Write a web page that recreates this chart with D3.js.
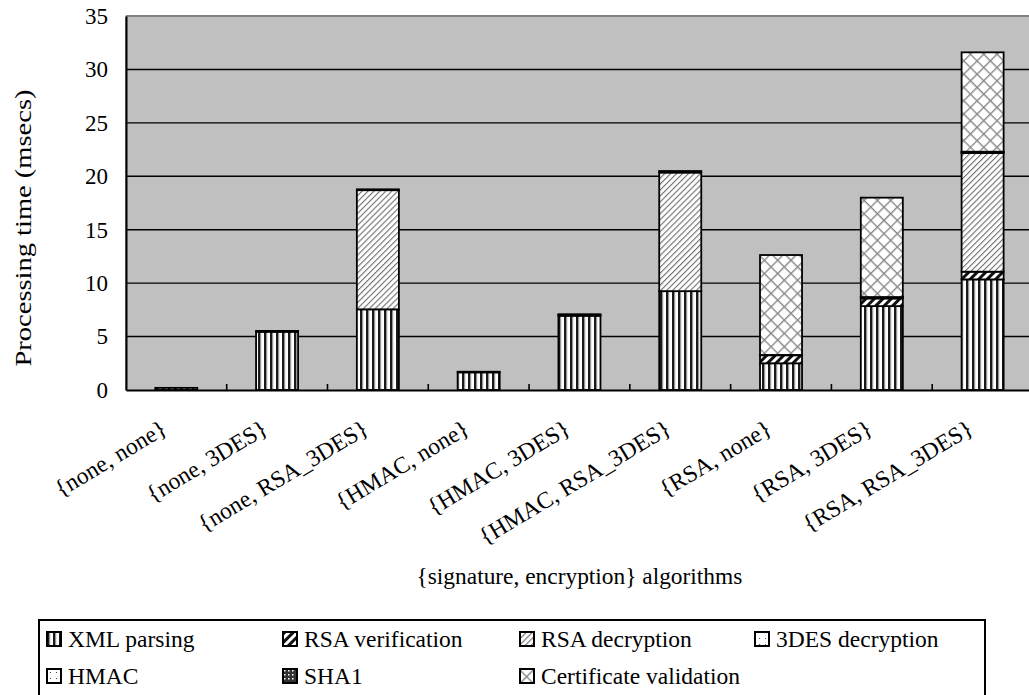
<!DOCTYPE html>
<html>
<head>
<meta charset="utf-8">
<script src="https://cdn.jsdelivr.net/npm/d3@7"></script>
<style>
  html, body { margin: 0; padding: 0; background: #fff; }
  svg { display: block; }
</style>
</head>
<body>
<svg id="chart" width="1029" height="695"></svg>
<script>
// Processing time per {signature, encryption} combination, split by stage (msecs)
const categories = ["{none, none}", "{none, 3DES}", "{none, RSA_3DES}", "{HMAC, none}", "{HMAC, 3DES}",
                    "{HMAC, RSA_3DES}", "{RSA, none}", "{RSA, 3DES}", "{RSA, RSA_3DES}"];
const seriesNames = ["XML parsing", "RSA verification", "RSA decryption", "3DES decryption",
                     "HMAC", "SHA1", "Certificate validation"];
const xmlParsing      = [0.2, 5.45, 7.55, 1.65, 6.95, 9.25, 2.5, 7.85, 10.35];
const rsaVerification = [0, 0, 0, 0, 0, 0, 0.75, 0.72, 0.72];
const rsaDecryption   = [0, 0, 11.15, 0, 0, 11.1, 0, 0, 11.1];
const desDecryption   = [0, 0.08, 0.08, 0, 0.08, 0.08, 0, 0.1, 0.1];
const hmac            = [0, 0, 0, 0.06, 0.06, 0.06, 0, 0, 0];
const sha1            = [0, 0, 0, 0, 0, 0, 0.03, 0.03, 0.03];
const certValidation  = [0, 0, 0, 0, 0, 0, 9.35, 9.3, 9.3];
const yTicks = [0, 5, 10, 15, 20, 25, 30, 35];

const seriesValues = [xmlParsing, rsaVerification, rsaDecryption, desDecryption, hmac, sha1, certValidation];
const patternIds = ["pXml", "pRsaVer", "pRsaDec", "pDes", "pHmac", "pSha1", "pCert"];
const FONT = "'Liberation Serif'";

const rows = categories.map((c, i) => {
  const r = { cat: c };
  seriesNames.forEach((s, k) => r[s] = seriesValues[k][i]);
  return r;
});

const svg = d3.select("#chart");
const plotLeft = 125.9, plotRight = 1033, plotTop = 16, plotBottom = 390;

const x = d3.scaleBand().domain(categories).range([plotLeft, plotRight]).paddingInner(0.583).paddingOuter(0.2915);
const y = d3.scaleLinear().domain([0, 35]).range([plotBottom, plotTop]);

// fill patterns
const defs = svg.append("defs");
function pat(id, w, h, build, rot) {
  const p = defs.append("pattern").attr("id", id).attr("patternUnits", "userSpaceOnUse")
    .attr("width", w).attr("height", h);
  if (rot) p.attr("patternTransform", "rotate(" + rot + ")");
  p.append("rect").attr("width", w).attr("height", h).attr("fill", "#fff");
  build(p);
}
pat("pXml", 6, 6, p => {
  p.append("rect").attr("x", 0).attr("width", 2.2).attr("height", 6).attr("fill", "#1a1a1a");
  p.append("rect").attr("x", 2.2).attr("width", 1).attr("height", 6).attr("fill", "#888");
});
pat("pRsaVer", 6, 6, p => {
  p.append("rect").attr("x", 0).attr("width", 3).attr("height", 6).attr("fill", "#111");
}, 45);
pat("pRsaDec", 4.2, 4.2, p => {
  p.append("rect").attr("x", 0).attr("width", 1.1).attr("height", 4.2).attr("fill", "#707070");
}, 45);
pat("pDes", 6, 6, p => {
  p.append("rect").attr("x", 4).attr("y", 0).attr("width", 1).attr("height", 1).attr("fill", "#555");
});
pat("pHmac", 6, 6, p => {
  p.append("rect").attr("x", 3).attr("y", 3).attr("width", 1).attr("height", 1).attr("fill", "#444");
});
pat("pSha1", 4, 4, p => {
  p.select("rect").attr("fill", "#333");
  p.append("rect").attr("x", 1).attr("y", 1).attr("width", 1.5).attr("height", 1.5).attr("fill", "#fff");
});
pat("pCert", 9.4, 9.4, p => {
  p.append("rect").attr("x", 0).attr("width", 1.4).attr("height", 9.4).attr("fill", "#8a8a8a");
  p.append("rect").attr("y", 0).attr("width", 9.4).attr("height", 1.4).attr("fill", "#8a8a8a");
}, 45);

// plot area
svg.append("rect").attr("x", plotLeft).attr("y", plotTop).attr("width", plotRight - plotLeft)
  .attr("height", plotBottom - plotTop).attr("fill", "#c0c0c0");
svg.append("line").attr("x1", plotLeft).attr("x2", plotRight).attr("y1", plotTop).attr("y2", plotTop)
  .attr("stroke", "#808080").attr("stroke-width", 2);

// gridlines
svg.append("g").selectAll("line").data(yTicks.filter(t => t > 0 && t < 35)).join("line")
  .attr("x1", plotLeft).attr("x2", plotRight).attr("y1", d => y(d)).attr("y2", d => y(d))
  .attr("stroke", "#000").attr("stroke-width", 1.4);

// stacked bars
const stack = d3.stack().keys(seriesNames);
const layers = stack(rows);
svg.append("g").selectAll("g").data(layers).join("g")
  .attr("fill", (d, i) => "url(#" + patternIds[i] + ")")
  .selectAll("rect").data(d => d.filter(s => s[1] - s[0] > 0)).join("rect")
  .attr("x", d => x(d.data.cat))
  .attr("width", x.bandwidth())
  .attr("y", d => y(d[1]))
  .attr("height", d => y(d[0]) - y(d[1]))
  .attr("stroke", "#000").attr("stroke-width", 1.8);

// axes
const yAxis = svg.append("g").attr("transform", "translate(" + plotLeft + ",0)")
  .call(d3.axisLeft(y).tickValues(yTicks).tickSize(0).tickPadding(18));
yAxis.select(".domain").attr("stroke", "#000").attr("stroke-width", 2.2);
yAxis.selectAll("text").attr("font-size", 23).attr("fill", "#000");

const xAxis = svg.append("g").attr("transform", "translate(0," + plotBottom + ")")
  .call(d3.axisBottom(x).tickSize(0).tickFormat(""));
xAxis.select(".domain").attr("stroke", "#000").attr("stroke-width", 2.2);

// category separator ticks pointing into the plot
const gap = x.step() - x.bandwidth();
svg.append("g").selectAll("line").data(categories.slice(1)).join("line")
  .attr("x1", d => x(d) - gap / 2).attr("x2", d => x(d) - gap / 2)
  .attr("y1", plotBottom).attr("y2", plotBottom - 6)
  .attr("stroke", "#000").attr("stroke-width", 1.6);

// rotated category labels
svg.append("g").selectAll("text").data(categories).join("text")
  .attr("transform", d => "translate(" + (x(d) + x.bandwidth() / 2 - 12) + "," + 426 + ") rotate(-31)")
  .attr("text-anchor", "end").attr("dominant-baseline", "central")
  .attr("font-size", 23.5).text(d => d);

// axis titles
svg.append("text").attr("x", (plotLeft + plotRight) / 2).attr("y", 584).attr("text-anchor", "middle")
  .attr("font-size", 23.4).text("{signature, encryption} algorithms");
svg.append("text").attr("transform", "translate(23,228) rotate(-90)")
  .attr("text-anchor", "middle").attr("dominant-baseline", "central")
  .attr("font-size", 24).attr("textLength", 277).attr("lengthAdjust", "spacingAndGlyphs")
  .text("Processing time (msecs)");

// legend
const legend = svg.append("g");
legend.append("rect").attr("x", 39).attr("y", 620).attr("width", 946).attr("height", 90)
  .attr("fill", "#fff").attr("stroke", "#000").attr("stroke-width", 2);
const colX = [47, 283, 520, 755];
const rowY = [632, 669];
const items = legend.selectAll("g").data(seriesNames).join("g")
  .attr("transform", (d, i) => "translate(" + colX[i % 4] + "," + rowY[Math.floor(i / 4)] + ")");
items.append("rect").attr("width", 14).attr("height", 14)
  .attr("fill", (d, i) => "url(#" + patternIds[i] + ")")
  .attr("stroke", "#000").attr("stroke-width", 2);
items.append("text").attr("x", 21).attr("y", 15).attr("font-size", 23.5).text(d => d);

// one serif face for every label
svg.selectAll("text").style("font-family", FONT).style("fill", "#000");
</script>
</body>
</html>
